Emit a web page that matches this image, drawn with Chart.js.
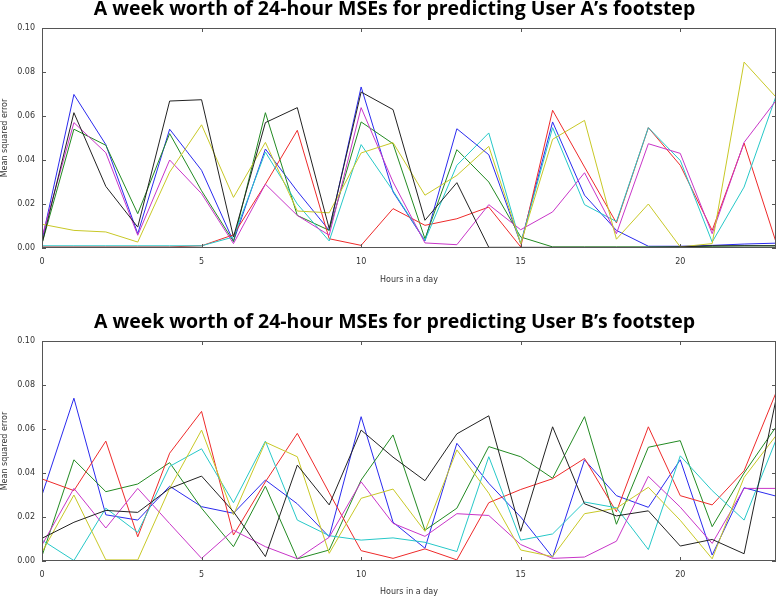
<!DOCTYPE html>
<html>
<head>
<meta charset="utf-8">
<script src="https://cdn.jsdelivr.net/npm/chart.js@4.4.1/dist/chart.umd.min.js"></script>
<style>
  html, body { margin: 0; padding: 0; background: #ffffff; }
  body { width: 777px; height: 596px; position: relative; overflow: hidden; }
  canvas { position: absolute; left: 0; }
  #cA { top: 0; }
  #cB { top: 313px; }
</style>
</head>
<body>
<canvas id="cA" width="777" height="313"></canvas>
<canvas id="cB" width="777" height="283"></canvas>
<script>
// ---- categories / ticks ----
const hours = [0,1,2,3,4,5,6,7,8,9,10,11,12,13,14,15,16,17,18,19,20,21,22,23];
const xTickValues = [0,5,10,15,20];
const yTickValues = [0.00,0.02,0.04,0.06,0.08,0.10];
const titleA = "A week worth of 24-hour MSEs for predicting User A\u2019s footstep";
const titleB = "A week worth of 24-hour MSEs for predicting User B\u2019s footstep";
const xAxisLabel = "Hours in a day";
const yAxisLabel = "Mean squared error";

// ---- User A series (one per day) ----
const aBlue    = [0.0035,0.0698,0.047,0.0065,0.054,0.0353,0.003,0.045,0.0258,0.008,0.0732,0.0255,0.0032,0.0542,0.0424,0.002,0.0573,0.024,0.008,0.0008,0.0008,0.0012,0.0018,0.0022];
const aGreen   = [0.002,0.054,0.0467,0.0156,0.052,0.026,0.003,0.0615,0.0148,0.008,0.0573,0.0474,0.0042,0.0447,0.030,0.005,0.0005,0.0005,0.0005,0.0005,0.0005,0.0008,0.001,0.001];
const aRed     = [0.0005,0.0005,0.0005,0.0005,0.0005,0.001,0.006,0.029,0.0535,0.0042,0.0012,0.0179,0.0103,0.0133,0.0186,0.0005,0.0626,0.0368,0.0114,0.0547,0.0376,0.008,0.0477,0.0027];
const aCyan    = [0.001,0.001,0.001,0.001,0.001,0.001,0.005,0.0436,0.020,0.0032,0.047,0.026,0.0035,0.0376,0.0523,0.002,0.0547,0.0197,0.012,0.0547,0.0398,0.0027,0.0277,0.069];
const aMagenta = [0.005,0.057,0.0433,0.0058,0.040,0.0247,0.002,0.029,0.0148,0.0058,0.0638,0.030,0.0023,0.0015,0.0197,0.0083,0.0164,0.0342,0.0065,0.0474,0.043,0.0065,0.048,0.067];
const aYellow  = [0.0108,0.008,0.0073,0.0027,0.0345,0.056,0.023,0.048,0.0168,0.016,0.0432,0.0479,0.024,0.033,0.0462,0.002,0.0494,0.058,0.004,0.020,0.0005,0.002,0.0845,0.0686];
const aBlack   = [0.002,0.0615,0.028,0.0095,0.0668,0.0674,0.005,0.057,0.0638,0.0088,0.0709,0.0629,0.0126,0.0297,0.0003,0.0003,0.0003,0.0003,0.0003,0.0003,0.0005,0.001,0.001,0.001];

// ---- User B series ----
const bBlue    = [0.030,0.074,0.021,0.0186,0.034,0.0247,0.0217,0.0368,0.026,0.011,0.0656,0.0176,0.0058,0.0535,0.0353,0.020,0.0017,0.046,0.0297,0.0244,0.046,0.0027,0.0333,0.0295];
const bGreen   = [0.0023,0.046,0.0315,0.035,0.0447,0.024,0.0065,0.034,0.001,0.005,0.0368,0.0573,0.014,0.024,0.052,0.0474,0.0376,0.0656,0.0167,0.0517,0.0547,0.0156,0.040,0.061];
const bRed     = [0.0373,0.032,0.0545,0.011,0.049,0.068,0.0118,0.036,0.058,0.031,0.0047,0.0012,0.0055,0.0005,0.0265,0.0325,0.0374,0.0466,0.0224,0.061,0.0297,0.0255,0.041,0.0765];
const bCyan    = [0.0095,0.0002,0.024,0.013,0.043,0.051,0.0265,0.0545,0.0186,0.0115,0.0095,0.0105,0.0085,0.0043,0.0474,0.0095,0.0123,0.0268,0.0242,0.0052,0.0478,0.032,0.0186,0.055];
const bMagenta = [0.0073,0.033,0.015,0.033,0.017,0.0012,0.014,0.0065,0.001,0.0108,0.036,0.0171,0.0112,0.0215,0.0207,0.0075,0.0012,0.0018,0.009,0.0385,0.0245,0.008,0.033,0.033];
const bYellow  = [0.004,0.030,0.0005,0.0005,0.033,0.0595,0.021,0.054,0.0474,0.0035,0.0285,0.0327,0.0135,0.0505,0.0308,0.005,0.002,0.0215,0.024,0.0335,0.0185,0.001,0.038,0.057];
const bBlack   = [0.0103,0.0176,0.023,0.0221,0.033,0.0386,0.0224,0.002,0.0436,0.0255,0.0595,0.0472,0.0365,0.0578,0.066,0.0135,0.061,0.026,0.0205,0.0228,0.0068,0.0098,0.0033,0.0735];

const seriesColors = ['#2a2aee','#228a22','#ee2a2a','#26c8c8','#c835c8','#c8c826','#222222'];

function makeDatasets(list) {
  return list.map((vals, i) => ({
    data: vals.map((v, j) => ({ x: hours[j], y: v })),
    borderColor: seriesColors[i],
    backgroundColor: seriesColors[i],
    borderWidth: 1,
    pointRadius: 0,
    tension: 0,
    fill: false,
    order: list.length - 1 - i
  }));
}

const boxPlugin = {
  id: 'boxTicks',
  afterDatasetsDraw(chart) {
    const { ctx, chartArea: a, scales } = chart;
    ctx.save();
    ctx.strokeStyle = '#555555';
    ctx.lineWidth = 1;
    ctx.strokeRect(Math.round(a.left) + 0.5, Math.round(a.top) + 0.5,
                   Math.round(a.right - a.left) - 1, Math.round(a.bottom - a.top) - 1);
    const L = 4;
    ctx.beginPath();
    xTickValues.forEach(v => {
      const px = Math.round(scales.x.getPixelForValue(v)) + 0.5;
      ctx.moveTo(px, a.bottom); ctx.lineTo(px, a.bottom - L);
      ctx.moveTo(px, a.top); ctx.lineTo(px, a.top + L);
    });
    yTickValues.forEach(v => {
      const py = Math.round(scales.y.getPixelForValue(v)) + 0.5;
      ctx.moveTo(a.left, py); ctx.lineTo(a.left + L, py);
      ctx.moveTo(a.right, py); ctx.lineTo(a.right - L, py);
    });
    ctx.stroke();
    ctx.restore();
  }
};

function makeChart(id, title, list, xTitlePadBottom) {
  return new Chart(document.getElementById(id), {
    type: 'line',
    data: { datasets: makeDatasets(list) },
    plugins: [boxPlugin],
    options: {
      responsive: false,
      animation: false,
      events: [],
      layout: { padding: { left: 13, right: 1, top: 0, bottom: 0 } },
      plugins: {
        legend: { display: false },
        tooltip: { enabled: false },
        title: {
          display: true,
          text: title,
          color: '#000000',
          font: { family: "'Open Sans', 'Noto Sans', sans-serif", size: 19.5, weight: 'bold', lineHeight: 1 },
          padding: { top: 0, bottom: 8.5 }
        }
      },
      scales: {
        x: {
          type: 'linear',
          min: 0, max: 23,
          afterBuildTicks: s => { s.ticks = xTickValues.map(v => ({ value: v })); },
          afterFit: s => { s.height = s.chart.height - 248; },
          grid: { display: false, drawTicks: false },
          border: { display: false },
          ticks: {
            padding: 9,
            color: '#333333',
            font: { family: "'DejaVu Sans', sans-serif", size: 8 },
            callback: v => String(v)
          },
          title: {
            display: true, text: xAxisLabel, color: '#333333',
            font: { family: "'DejaVu Sans', sans-serif", size: 8, lineHeight: 1 },
            padding: { top: 0, bottom: xTitlePadBottom }
          }
        },
        y: {
          type: 'linear',
          min: 0, max: 0.1,
          afterBuildTicks: s => { s.ticks = yTickValues.map(v => ({ value: v })); },
          afterFit: s => { s.width = 29; },
          grid: { display: false, drawTicks: false },
          border: { display: false },
          ticks: {
            padding: 7,
            color: '#333333',
            font: { family: "'DejaVu Sans', sans-serif", size: 8 },
            callback: v => Number(v).toFixed(2)
          },
          title: {
            display: true, text: yAxisLabel, color: '#333333',
            font: { family: "'DejaVu Sans', sans-serif", size: 8, lineHeight: 1 },
            padding: { top: -12, bottom: 0 }
          }
        }
      }
    }
  });
}

makeChart('cA', titleA, [aBlue, aGreen, aRed, aCyan, aMagenta, aYellow, aBlack], 29);
makeChart('cB', titleB, [bBlue, bGreen, bRed, bCyan, bMagenta, bYellow, bBlack], 0);
</script>
</body>
</html>
